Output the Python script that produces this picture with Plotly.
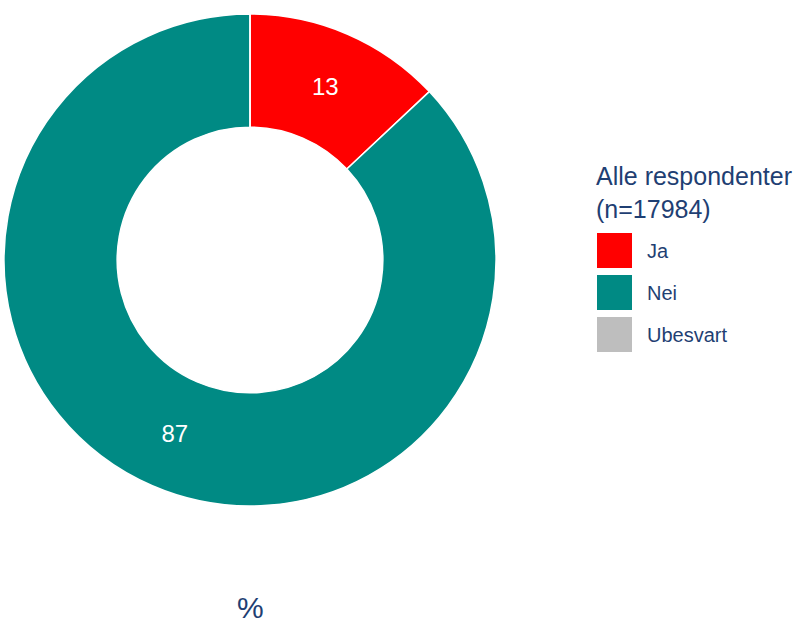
import plotly.graph_objects as go

labels = ["Ja", "Nei", "Ubesvart"]
values = [13, 87, 0]
colors = ["#FF0000", "#008A84", "#BEBEBE"]
legend_title = "Alle respondenter<br>(n=17984)"
axis_label = "%"
text_color = "#1F3F73"

texts = [str(v) if v > 0 else "" for v in values]

fig = go.Figure()
fig.add_trace(go.Pie(
    labels=labels,
    values=values,
    text=texts,
    textinfo="text",
    textposition="inside",
    insidetextorientation="horizontal",
    textfont=dict(family="Liberation Sans, Arial", size=24, color="white"),
    marker=dict(colors=colors, line=dict(color="white", width=1.5)),
    hole=0.54,
    sort=False,
    direction="clockwise",
    rotation=0,
    showlegend=False,
    domain=dict(x=[0.005, 0.62], y=[0.1904, 0.9776]),
))

# Custom legend (large square keys) built from the label/colour arrays
shapes = []
annotations = [
    dict(text=legend_title, x=594, y=625 - 160, xref="x", yref="y",
         xanchor="left", yanchor="top", showarrow=False, align="left",
         font=dict(family="Liberation Sans, Arial", size=25, color=text_color)),
    dict(text=axis_label, x=250, y=625 - 607, xref="x", yref="y",
         xanchor="center", yanchor="middle", showarrow=False,
         font=dict(family="Liberation Sans, Arial", size=30, color=text_color)),
]
for i, (lab, col) in enumerate(zip(labels, colors)):
    top = 233 + i * 42
    shapes.append(dict(type="rect", xref="x", yref="y",
                       x0=597, x1=632, y0=625 - top, y1=625 - (top + 35),
                       fillcolor=col, line=dict(width=0)))
    annotations.append(dict(text=lab, x=645, y=625 - (top + 17.5), xref="x", yref="y",
                            xanchor="left", yanchor="middle", showarrow=False,
                            font=dict(family="Liberation Sans, Arial", size=20, color=text_color)))

fig.update_layout(
    width=800, height=625,
    margin=dict(l=0, r=0, t=0, b=0),
    paper_bgcolor="white", plot_bgcolor="white",
    xaxis=dict(range=[0, 800], visible=False, fixedrange=True),
    yaxis=dict(range=[0, 625], visible=False, fixedrange=True),
    shapes=shapes,
    annotations=annotations,
    showlegend=False,
)

fig.write_html("out.html", config={"displayModeBar": False},
               post_script="document.body.style.margin='0';")
